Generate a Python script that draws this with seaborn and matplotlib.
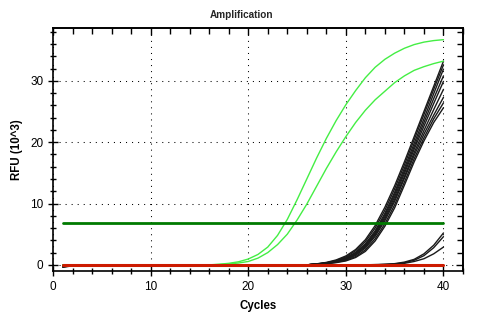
import matplotlib
matplotlib.use("Agg")
import matplotlib.pyplot as plt
import seaborn as sns
import pandas as pd
from matplotlib.ticker import MultipleLocator

sns.set_theme(style="white")
plt.rcParams['font.family'] = ['Liberation Sans', 'DejaVu Sans']

cycles = list(range(1, 41))

green_a = [0.0]*16 + [0.1, 0.25, 0.5, 0.95, 1.7, 2.9, 4.8, 7.4, 10.6, 14.0, 17.4, 20.6, 23.5,
                     26.1, 28.4, 30.5, 32.2, 33.5, 34.5, 35.3, 35.9, 36.3, 36.55, 36.7]
green_b = [0.0]*16 + [0.05, 0.15, 0.3, 0.55, 1.1, 2.0, 3.3, 5.0, 7.3, 9.9, 12.8, 15.7, 18.4,
                      20.9, 23.2, 25.2, 26.9, 28.3, 29.7, 30.8, 31.7, 32.3, 32.8, 33.2]

black_curves = [
    [-0.4, -0.15] + [0.0]*24 + [0.17, 0.4, 0.8, 1.45, 2.5, 4.1, 6.4, 9.4, 12.9, 16.8, 20.9, 25.0, 29.1, 33.2],
    [-0.3, -0.1] + [0.0]*24 + [0.15, 0.35, 0.7, 1.3, 2.3, 3.8, 6.0, 8.9, 12.4, 16.3, 20.4, 24.5, 28.6, 32.6],
    [0.0]*26 + [0.14, 0.31, 0.62, 1.15, 2.05, 3.45, 5.55, 8.4, 11.85, 15.75, 19.8, 23.8, 27.9, 31.9],
    [0.0]*26 + [0.13, 0.29, 0.59, 1.07, 1.93, 3.28, 5.3, 8.1, 11.5, 15.3, 19.3, 23.2, 27.1, 30.8],
    [-0.35, -0.1] + [0.0]*24 + [0.13, 0.28, 0.55, 1.0, 1.8, 3.1, 5.1, 7.8, 11.1, 14.9, 18.85, 22.6, 26.3, 29.9],
    [0.0]*26 + [0.12, 0.26, 0.51, 0.92, 1.68, 2.93, 4.88, 7.5, 10.7, 14.4, 18.3, 21.9, 25.3, 28.6],
    [0.0]*26 + [0.11, 0.24, 0.48, 0.85, 1.55, 2.75, 4.65, 7.2, 10.35, 14.1, 17.85, 21.3, 24.4, 27.3],
    [0.0]*26 + [0.1, 0.21, 0.42, 0.74, 1.35, 2.45, 4.25, 6.7, 9.8, 13.5, 17.3, 20.7, 23.8, 26.4],
    [0.0]*26 + [0.09, 0.18, 0.36, 0.64, 1.2, 2.2, 3.9, 6.3, 9.3, 13.0, 16.8, 20.2, 23.2, 25.6],
    [0.0]*32 + [0.05, 0.1, 0.2, 0.45, 0.9, 1.8, 3.2, 5.2],
    [0.0]*33 + [0.08, 0.15, 0.35, 0.75, 1.5, 2.8, 4.6],
    [0.0]*34 + [0.1, 0.25, 0.55, 1.0, 1.8, 2.9],
]
baseline_red = [0.0] * 40
threshold = 6.8

rows = []
for name, vals in [("ga", green_a), ("gb", green_b)]:
    for c, v in zip(cycles, vals):
        rows.append((name, c, v))
green_df = pd.DataFrame(rows, columns=["well", "cycle", "rfu"])
rows = []
for i, vals in enumerate(black_curves):
    for c, v in zip(cycles, vals):
        rows.append((f"b{i}", c, v))
black_df = pd.DataFrame(rows, columns=["well", "cycle", "rfu"])

fig = plt.figure(figsize=(4.8, 3.21), dpi=100)
ax = fig.add_axes([53/480, 1-271/321, 410/480, 243/321])

sns.lineplot(data=black_df, x="cycle", y="rfu", units="well", estimator=None,
             color="#1a1a1a", lw=1.0, ax=ax, legend=False, zorder=3)
sns.lineplot(data=green_df, x="cycle", y="rfu", units="well", estimator=None,
             color="#44ee44", lw=1.0, ax=ax, legend=False, zorder=3)
sns.lineplot(x=[cycles[0], cycles[-1]], y=[threshold, threshold], color="#007a00", lw=2.0, ax=ax, zorder=4)
sns.lineplot(x=cycles, y=baseline_red, color="#cc1a00", lw=2.2, ax=ax, zorder=4)

ax.set_xlim(0, 42)
ax.set_ylim(-1, 38.6)
ax.xaxis.set_major_locator(MultipleLocator(10))
ax.xaxis.set_minor_locator(MultipleLocator(2))
ax.yaxis.set_major_locator(MultipleLocator(10))
ax.yaxis.set_minor_locator(MultipleLocator(2))
ax.grid(True, which="major", color="black", linestyle=(0, (1, 4.8)), linewidth=0.75)
ax.tick_params(which="both", direction="inout", bottom=True, left=True, top=False, right=False,
               color="black", width=1.0, labelsize=8.5, labelcolor="black")
ax.tick_params(which="major", length=7)
ax.tick_params(which="minor", length=5)
sx = ax.secondary_xaxis("top")
sx.xaxis.set_major_locator(MultipleLocator(10))
sx.xaxis.set_minor_locator(MultipleLocator(2))
sx.tick_params(which="both", direction="in", labeltop=False, color="black", width=1.0)
sx.tick_params(which="major", length=5)
sx.tick_params(which="minor", length=4)
sy = ax.secondary_yaxis("right")
sy.yaxis.set_major_locator(MultipleLocator(10))
sy.yaxis.set_minor_locator(MultipleLocator(2))
sy.tick_params(which="both", direction="in", labelright=False, color="black", width=1.0)
sy.tick_params(which="major", length=5)
sy.tick_params(which="minor", length=4)
for a in (ax, sx, sy):
    for sp in a.spines.values():
        sp.set_color("black")
        sp.set_linewidth(1.2)

ax.set_xlabel("Cycles", fontsize=8.3, fontweight="bold", color="black", labelpad=5)
ax.set_ylabel("RFU (10^3)", fontsize=8.3, fontweight="bold", color="black", labelpad=5)
fig.text(0.503, 1-15/321, "Amplification", ha="center", va="center", fontsize=7.2, fontweight="bold")

fig.savefig("out.png", dpi=100)
